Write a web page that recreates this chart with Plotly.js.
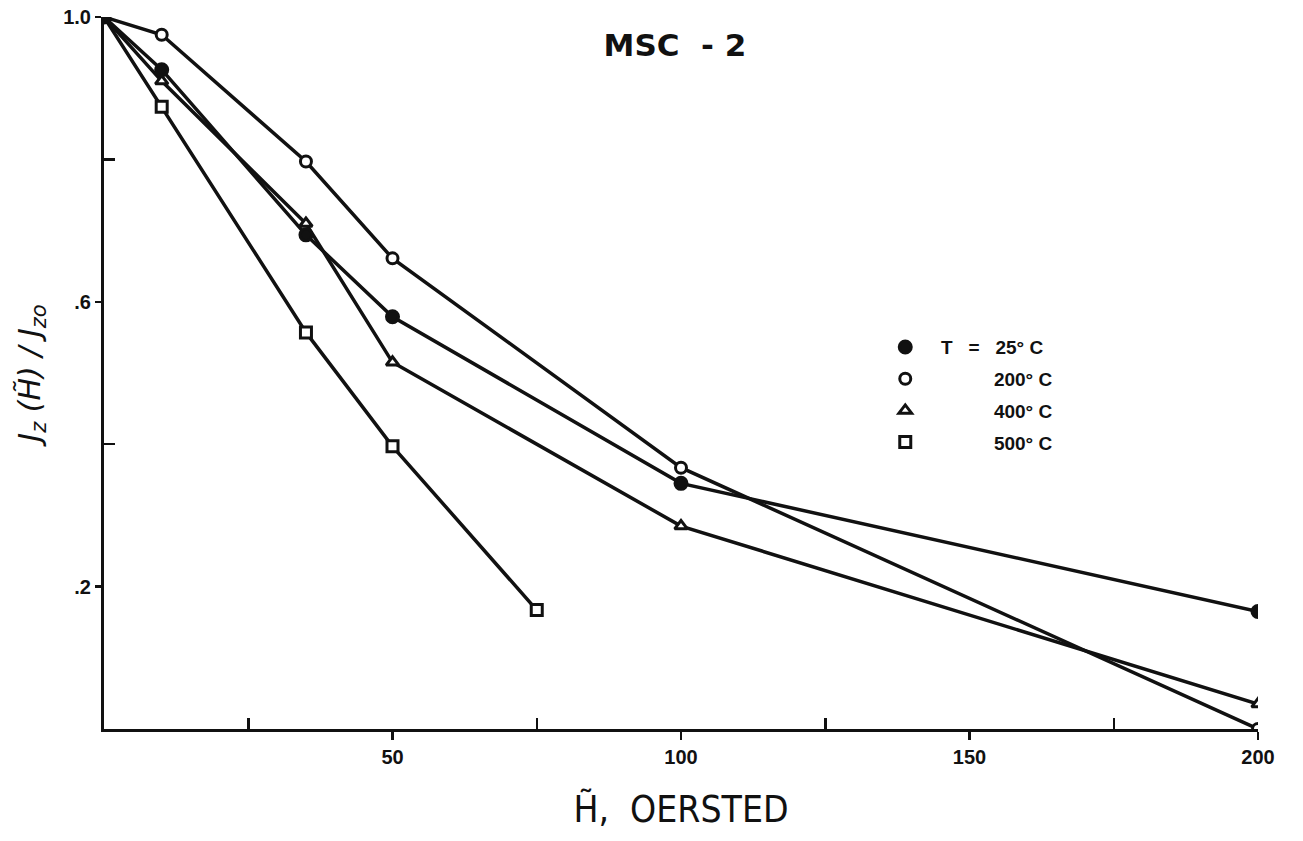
<!DOCTYPE html>
<html>
<head>
<meta charset="utf-8">
<script src="https://cdn.plot.ly/plotly-3.0.1.min.js"></script>
<style>html,body{margin:0;padding:0;background:#fff;}#chart{width:1303px;height:841px;}</style>
</head>
<body>
<div id="chart"></div>
<script>
// Field values H (oersted)
const H_full = [0, 10, 35, 50, 100, 200];
const H_500 = [0, 10, 35, 50, 75];
// Normalised Jz(H)/Jz0
const J_25C = [1.0, 0.926, 0.694, 0.579, 0.345, 0.165];
const J_200C = [1.0, 0.975, 0.797, 0.661, 0.367, 0.0];
const J_400C = [1.0, 0.91, 0.71, 0.515, 0.285, 0.035];
const J_500C = [1.0, 0.874, 0.557, 0.397, 0.167];
// Legend labels
const legendLabels = ['T\u00a0\u00a0\u00a0=\u00a0\u00a0\u00a025°\u00a0C', '200°\u00a0C', '400°\u00a0C', '500°\u00a0C'];
// Tick labels
const xTickVals = [50, 100, 150, 200];
const xTickText = ['50', '100', '150', '200'];
const xMinorVals = [25, 75, 125, 175];
const yTickVals = [0.2, 0.6, 1.0];
const yTickText = ['.2', '.6', '1.0'];
const yMinorVals = [0.4, 0.8];

const lineStyle = {color: '#111', width: 3.5};
function mk(symbol, filled) {
  return {symbol: symbol, size: filled ? 12 : 11, color: filled ? '#111' : '#fff',
          line: {color: '#111', width: 3}};
}
const styles = [
  mk('circle', true), mk('circle', false), mk('triangle-up', false), mk('square', false)
];
const pad = ['\u00a0\u00a0\u00a0', '\u00a0'.repeat(13), '\u00a0'.repeat(13), '\u00a0'.repeat(13)];

const traces = [
  {x: H_500, y: J_500C, mode: 'lines+markers', line: lineStyle, marker: styles[3], showlegend: false},
  {x: H_full, y: J_400C, mode: 'lines+markers', line: lineStyle, marker: styles[2], showlegend: false},
  {x: H_full, y: J_200C, mode: 'lines+markers', line: lineStyle, marker: styles[1], showlegend: false},
  {x: H_full, y: J_25C, mode: 'lines+markers', line: lineStyle, marker: styles[0], showlegend: false}
];
legendLabels.forEach((lab, i) => {
  traces.push({x: [null], y: [null], mode: 'markers', marker: styles[i],
    name: pad[i] + lab, legendgroup: 'g' + i, showlegend: true});
});

const tickFont = {family: 'Liberation Sans, Arial, sans-serif', size: 20, color: '#111', weight: 'bold'};
const layout = {
  width: 1303, height: 841,
  margin: {l: 104, r: 45, t: 17, b: 112},
  paper_bgcolor: '#fff', plot_bgcolor: '#fff',
  showlegend: true,
  legend: {x: 0.677, y: 0.563, xanchor: 'left', yanchor: 'top', traceorder: 'grouped',
    tracegroupgap: 4, bgcolor: 'rgba(0,0,0,0)',
    font: {family: 'Liberation Sans, Arial, sans-serif', size: 19, color: '#111', weight: 'bold'}},
  title: {text: 'MSC\u00a0\u00a0-\u00a02', x: 0.518, xanchor: 'center', y: 0.946, yanchor: 'middle',
    font: {family: 'DejaVu Sans, sans-serif', size: 31, color: '#111', weight: 'bold'}},
  xaxis: {range: [0, 200], showgrid: false, zeroline: false, showline: true, linewidth: 3, linecolor: '#111',
    tickmode: 'array', tickvals: xTickVals, ticktext: xTickText, ticks: 'outside', ticklen: 8, tickwidth: 2.5,
    tickcolor: '#111', tickfont: tickFont,
    minor: {tickmode: 'array', tickvals: xMinorVals, ticks: 'inside', ticklen: 11, tickwidth: 2.5, tickcolor: '#111', showgrid: false},
    title: {text: 'H̃,\u00a0 OERSTED', standoff: 30,
      font: {family: 'DejaVu Sans Condensed, DejaVu Sans, sans-serif', size: 37, color: '#111'}}},
  yaxis: {range: [0, 1.0], showgrid: false, zeroline: false, showline: true, linewidth: 3, linecolor: '#111',
    tickmode: 'array', tickvals: yTickVals, ticktext: yTickText, ticks: 'outside', ticklen: 6, tickwidth: 2.5,
    tickcolor: '#111', tickfont: tickFont,
    minor: {tickmode: 'array', tickvals: yMinorVals, ticks: 'inside', ticklen: 11, tickwidth: 2.5, tickcolor: '#111', showgrid: false},
    title: {text: 'J<sub>z</sub> (H̃) / J<sub>zo</sub>', standoff: 14,
      font: {family: 'DejaVu Sans, sans-serif', size: 30, color: '#111', style: 'italic'}}}
};
Plotly.newPlot('chart', traces, layout, {displayModeBar: false, staticPlot: true});
</script>
</body>
</html>
